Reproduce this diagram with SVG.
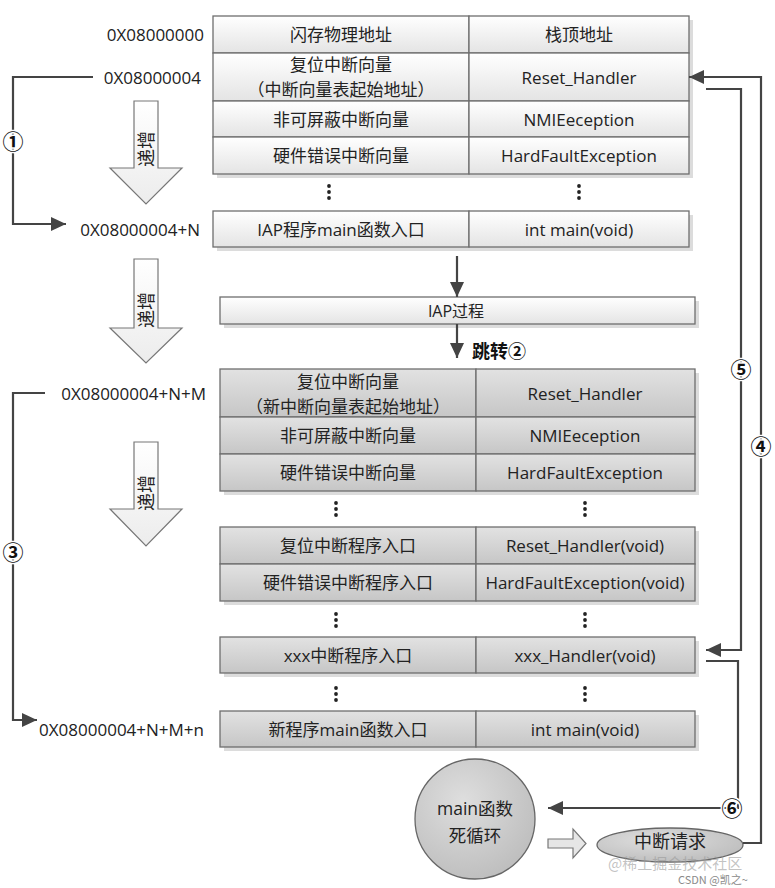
<svg xmlns="http://www.w3.org/2000/svg" width="775" height="888" viewBox="0 0 775 888">
<style>
.t{font-family:"Open Sans","Noto Sans CJK SC",sans-serif;font-size:17px;fill:#222;text-anchor:middle;dominant-baseline:central}
.lab{font-family:"Open Sans","Noto Sans CJK SC",sans-serif;font-size:17px;fill:#222;text-anchor:end;dominant-baseline:central}
.num{font-family:"Noto Sans CJK SC",sans-serif;font-size:21px;font-weight:bold;fill:#111;text-anchor:middle;dominant-baseline:central;stroke:#fff;stroke-width:3px;paint-order:stroke}
.c1{fill:url(#gTop);stroke:#6e6e6e;stroke-width:1.3}
.c2{fill:url(#gLow);stroke:#6e6e6e;stroke-width:1.3}
.sh{fill:#dcdcdc}
.conn{fill:none;stroke:#444;stroke-width:2.2}
.blk{fill:url(#gArr);stroke:#777;stroke-width:1.2}
.dot{fill:#222}
</style>
<defs>
<linearGradient id="gTop" x1="0" y1="0" x2="0" y2="1"><stop offset="0" stop-color="#ffffff"/><stop offset="1" stop-color="#e4e4e4"/></linearGradient>
<linearGradient id="gLow" x1="0" y1="0" x2="0" y2="1"><stop offset="0" stop-color="#e2e2e2"/><stop offset="1" stop-color="#c6c6c6"/></linearGradient>
<linearGradient id="gArr" x1="0" y1="0" x2="0" y2="1"><stop offset="0" stop-color="#ffffff"/><stop offset="1" stop-color="#ececec"/></linearGradient>
<radialGradient id="gCir" cx="0.4" cy="0.35" r="0.7"><stop offset="0" stop-color="#dedede"/><stop offset="1" stop-color="#bdbdbd"/></radialGradient>
<marker id="ah" markerUnits="userSpaceOnUse" markerWidth="16" markerHeight="14" refX="15" refY="7" orient="auto"><path d="M0,0 L15,7 L0,14 Z" fill="#444"/></marker>
</defs>

<!-- shadows -->
<rect class="sh" x="217" y="20" width="476" height="158"/>
<rect class="sh" x="217" y="215" width="476" height="36"/>
<rect class="sh" x="224" y="301" width="475" height="27"/>
<rect class="sh" x="224" y="373" width="475" height="122"/>
<rect class="sh" x="224" y="531" width="475" height="74"/>
<rect class="sh" x="224" y="641" width="475" height="36"/>
<rect class="sh" x="224" y="715" width="475" height="36"/>

<!-- top table -->
<g id="row-header"><rect class="c1" x="213" y="16" width="256" height="37"/><rect class="c1" x="469" y="16" width="220" height="37"/><text class="t" x="341" y="34">闪存物理地址</text><text class="t" x="579" y="34">栈顶地址</text></g>
<g id="row-reset"><rect class="c1" x="213" y="53" width="256" height="48"/><rect class="c1" x="469" y="53" width="220" height="48"/><text class="t" x="341" y="64">复位中断向量</text><text class="t" x="341" y="89">（中断向量表起始地址）</text><text class="t" x="579" y="77">Reset_Handler</text></g>
<g id="row-nmi"><rect class="c1" x="213" y="101" width="256" height="36"/><rect class="c1" x="469" y="101" width="220" height="36"/><text class="t" x="341" y="119">非可屏蔽中断向量</text><text class="t" x="579" y="119">NMIEeception</text></g>
<g id="row-hard"><rect class="c1" x="213" y="137" width="256" height="37"/><rect class="c1" x="469" y="137" width="220" height="37"/><text class="t" x="341" y="155.5">硬件错误中断向量</text><text class="t" x="579" y="155.5">HardFaultException</text></g>
<g id="dots1"><circle class="dot" cx="329" cy="186" r="1.9"/><circle class="dot" cx="329" cy="192" r="1.9"/><circle class="dot" cx="329" cy="198" r="1.9"/><circle class="dot" cx="579" cy="186" r="1.9"/><circle class="dot" cx="579" cy="192" r="1.9"/><circle class="dot" cx="579" cy="198" r="1.9"/></g>
<g id="row-iapmain"><rect class="c1" x="213" y="211" width="256" height="36"/><rect class="c1" x="469" y="211" width="220" height="36"/><text class="t" x="341" y="229">IAP程序main函数入口</text><text class="t" x="579" y="229">int main(void)</text></g>

<!-- IAP process -->
<g id="iap"><rect class="c1" x="220" y="297" width="475" height="27"/><text class="t" x="456" y="311" style="font-size:16px">IAP过程</text></g>

<!-- lower table -->
<g id="new-reset"><rect class="c2" x="220" y="369" width="256" height="48"/><rect class="c2" x="476" y="369" width="219" height="48"/><text class="t" x="348" y="381">复位中断向量</text><text class="t" x="348" y="406">（新中断向量表起始地址）</text><text class="t" x="585" y="393">Reset_Handler</text></g>
<g id="new-nmi"><rect class="c2" x="220" y="417" width="256" height="37"/><rect class="c2" x="476" y="417" width="219" height="37"/><text class="t" x="348" y="435.5">非可屏蔽中断向量</text><text class="t" x="585" y="435.5">NMIEeception</text></g>
<g id="new-hard"><rect class="c2" x="220" y="454" width="256" height="37"/><rect class="c2" x="476" y="454" width="219" height="37"/><text class="t" x="348" y="472.5">硬件错误中断向量</text><text class="t" x="585" y="472.5">HardFaultException</text></g>
<g id="dots2"><circle class="dot" cx="336" cy="503" r="1.9"/><circle class="dot" cx="336" cy="509" r="1.9"/><circle class="dot" cx="336" cy="515" r="1.9"/><circle class="dot" cx="585" cy="503" r="1.9"/><circle class="dot" cx="585" cy="509" r="1.9"/><circle class="dot" cx="585" cy="515" r="1.9"/></g>
<g id="isr-reset"><rect class="c2" x="220" y="527" width="256" height="37"/><rect class="c2" x="476" y="527" width="219" height="37"/><text class="t" x="348" y="545.5">复位中断程序入口</text><text class="t" x="585" y="545.5">Reset_Handler(void)</text></g>
<g id="isr-hard"><rect class="c2" x="220" y="564" width="256" height="37"/><rect class="c2" x="476" y="564" width="219" height="37"/><text class="t" x="348" y="582.5">硬件错误中断程序入口</text><text class="t" x="585" y="582.5">HardFaultException(void)</text></g>
<g id="dots3"><circle class="dot" cx="336" cy="614" r="1.9"/><circle class="dot" cx="336" cy="620" r="1.9"/><circle class="dot" cx="336" cy="626" r="1.9"/><circle class="dot" cx="585" cy="614" r="1.9"/><circle class="dot" cx="585" cy="620" r="1.9"/><circle class="dot" cx="585" cy="626" r="1.9"/></g>
<g id="isr-xxx"><rect class="c2" x="220" y="637" width="256" height="36"/><rect class="c2" x="476" y="637" width="219" height="36"/><text class="t" x="348" y="655">xxx中断程序入口</text><text class="t" x="585" y="655">xxx_Handler(void)</text></g>
<g id="dots4"><circle class="dot" cx="336" cy="688" r="1.9"/><circle class="dot" cx="336" cy="694" r="1.9"/><circle class="dot" cx="336" cy="700" r="1.9"/><circle class="dot" cx="585" cy="688" r="1.9"/><circle class="dot" cx="585" cy="694" r="1.9"/><circle class="dot" cx="585" cy="700" r="1.9"/></g>
<g id="new-main"><rect class="c2" x="220" y="711" width="256" height="36"/><rect class="c2" x="476" y="711" width="219" height="36"/><text class="t" x="348" y="729">新程序main函数入口</text><text class="t" x="585" y="729">int main(void)</text></g>

<!-- address labels -->
<g id="addresses">
<text class="lab" x="204" y="34">0X08000000</text>
<text class="lab" x="201" y="77">0X08000004</text>
<text class="lab" x="200" y="229">0X08000004+N</text>
<text class="lab" x="206" y="393">0X08000004+N+M</text>
<text class="lab" x="204" y="729">0X08000004+N+M+n</text>
</g>

<!-- block arrows -->
<g id="inc1"><polygon class="blk" points="134,101 158,101 158,168 182,168 146,204 110,168 134,168"/><text class="t" transform="translate(146,149) rotate(-90)" style="font-size:18px">递增</text></g>
<g id="inc2"><polygon class="blk" points="134,259 158,259 158,328 182,328 146,363 110,328 134,328"/><text class="t" transform="translate(146,310) rotate(-90)" style="font-size:18px">递增</text></g>
<g id="inc3"><polygon class="blk" points="134,442 158,442 158,509 182,509 146,546 110,509 134,509"/><text class="t" transform="translate(146,493) rotate(-90)" style="font-size:18px">递增</text></g>

<!-- main loop circle -->
<g id="mainloop"><circle cx="475" cy="819" r="60" fill="url(#gCir)" stroke="#666" stroke-width="1.3"/><text class="t" x="475" y="808" style="font-size:17.5px">main函数</text><text class="t" x="475" y="835" style="font-size:17.5px">死循环</text></g>
<g id="loop-arrow"><polygon class="blk" points="548,839 573,839 573,829 586,843.5 573,858 573,848 548,848" style="fill:#e6e6e6"/></g>
<g id="irq"><ellipse cx="670" cy="845" rx="73" ry="17" fill="url(#gCir)" stroke="#666" stroke-width="1.3"/><text class="t" x="670" y="841" style="font-size:18px">中断请求</text></g>

<!-- connectors -->
<g id="connectors">
<path class="conn" d="M93,77 H13 V224 H66" marker-end="url(#ah)"/>
<path class="conn" d="M45,393 H13 V720 H37" marker-end="url(#ah)"/>
<path class="conn" d="M457,256 V297" marker-end="url(#ah)"/>
<path class="conn" d="M457,324 V358" marker-end="url(#ah)"/>
<path class="conn" d="M743,843 H761 V77 H689" marker-end="url(#ah)"/>
<path class="conn" d="M706,89 H741 V650 H706" marker-end="url(#ah)"/>
<path class="conn" d="M706,661 H738 V808 H548" marker-end="url(#ah)"/>
</g>

<!-- step labels -->
<g id="steps">
<text class="num" x="13" y="140">①</text>
<text class="num" x="13" y="551">③</text>
<text class="num" x="741" y="368">⑤</text>
<text class="num" x="761" y="445">④</text>
<text class="num" x="732" y="807">⑥</text>
<text x="472" y="350" style="font-family:'Noto Sans CJK SC',sans-serif;font-size:18px;font-weight:bold;fill:#111;dominant-baseline:central">跳转②</text>
</g>

<!-- watermark -->
<g id="watermark">
<text x="608" y="862" style="font-family:'Noto Sans CJK SC',sans-serif;font-size:15px;fill:#9a9a9a;fill-opacity:0.6;dominant-baseline:central">@稀土掘金技术社区</text>
<text x="678" y="879" style="font-family:'Noto Sans CJK SC',sans-serif;font-size:11px;fill:#8a8a8a;dominant-baseline:central">CSDN @凯之~</text>
</g>
</svg>
